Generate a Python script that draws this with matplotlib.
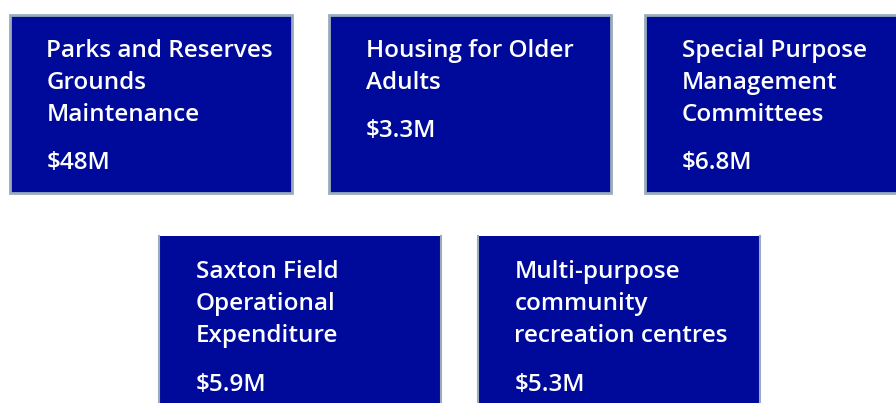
import matplotlib.pyplot as plt
from matplotlib.patches import Rectangle

# budget items (name lines, cost)
names = [
    ['Parks and Reserves', 'Grounds', 'Maintenance'],
    ['Housing for Older', 'Adults'],
    ['Special Purpose', 'Management', 'Committees'],
    ['Saxton Field', 'Operational', 'Expenditure'],
    ['Multi-purpose', 'community', 'recreation centres'],
]
costs = ['$48M', '$3.3M', '$6.8M', '$5.9M', '$5.3M']

# layout in pixels: (left, top) of each box
box_pos = [(9.5, 14.5), (328.5, 14.5), (644.5, 14.5), (158.5, 236), (477.5, 236)]
box_w, box_h = 282, 178
fill = '#000a9a'
edge = '#9aabbd'
fsize = 17.5

fig = plt.figure(figsize=(8.96, 4.03), dpi=100)
ax = fig.add_axes([0, 0, 1, 1])
ax.set_xlim(0, 896)
ax.set_ylim(403, 0)
ax.axis('off')

for i, (lines, cost) in enumerate(zip(names, costs)):
    x0, y0 = box_pos[i]
    top_row = i < 3
    ax.add_patch(Rectangle((x0, y0), box_w, box_h if top_row else 200,
                           facecolor=fill,
                           edgecolor=edge if top_row else 'none', lw=2))
    if not top_row:
        # bottom row only shows side borders
        ax.plot([x0, x0], [y0, 403], color=edge, lw=1.5)
        ax.plot([x0 + box_w, x0 + box_w], [y0, 403], color=edge, lw=1.5)
    tx = x0 + 37
    base = y0 + 42.5
    for k, ln in enumerate(lines):
        ax.text(tx, base + 32 * k, ln, color='white', fontsize=fsize,
                family='Open Sans', weight='semibold',
                ha='left', va='baseline')
    ax.text(tx, base + 32 * (len(lines) - 1) + 48, cost, color='white',
            fontsize=fsize, family='Open Sans', weight='semibold',
            ha='left', va='baseline')

fig.savefig('out.png', dpi=100)
